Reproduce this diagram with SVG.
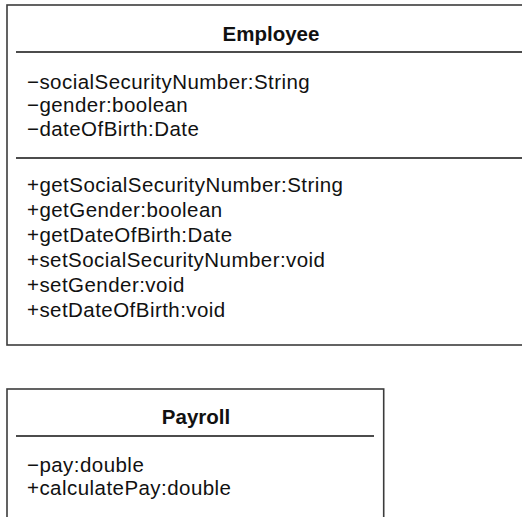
<svg xmlns="http://www.w3.org/2000/svg" width="522" height="517" viewBox="0 0 522 517">
<style>
.box{fill:#fff;stroke:#3c3c3c;stroke-width:1.6}
.sep{stroke:#111;stroke-width:1.3}
.t{font-family:"Liberation Sans",Arial,sans-serif;font-size:20.5px;letter-spacing:0.45px;fill:#111}
.h{font-family:"Liberation Sans",Arial,sans-serif;font-size:20.5px;font-weight:bold;fill:#111;text-anchor:middle}
</style>
<rect width="522" height="517" fill="#fff"/>
<g id="employee">
<rect class="box" x="7" y="5" width="540" height="340"/>
<text class="h" x="271" y="41">Employee</text>
<line class="sep" x1="16" y1="52" x2="522" y2="52"/>
<text class="t" x="27" y="88.5">−socialSecurityNumber:String</text>
<text class="t" x="27" y="112">−gender:boolean</text>
<text class="t" x="27" y="135.5">−dateOfBirth:Date</text>
<line class="sep" x1="16" y1="158" x2="522" y2="158"/>
<text class="t" x="27" y="192">+getSocialSecurityNumber:String</text>
<text class="t" x="27" y="217">+getGender:boolean</text>
<text class="t" x="27" y="242">+getDateOfBirth:Date</text>
<text class="t" x="27" y="267">+setSocialSecurityNumber:void</text>
<text class="t" x="27" y="292">+setGender:void</text>
<text class="t" x="27" y="317">+setDateOfBirth:void</text>
</g>
<g id="payroll">
<rect class="box" x="7" y="389" width="376.7" height="160"/>
<text class="h" x="196" y="424">Payroll</text>
<line class="sep" x1="16" y1="436" x2="374" y2="436"/>
<text class="t" x="27" y="471.5">−pay:double</text>
<text class="t" x="27" y="495">+calculatePay:double</text>
</g>
<g id="connectors"/>
</svg>
